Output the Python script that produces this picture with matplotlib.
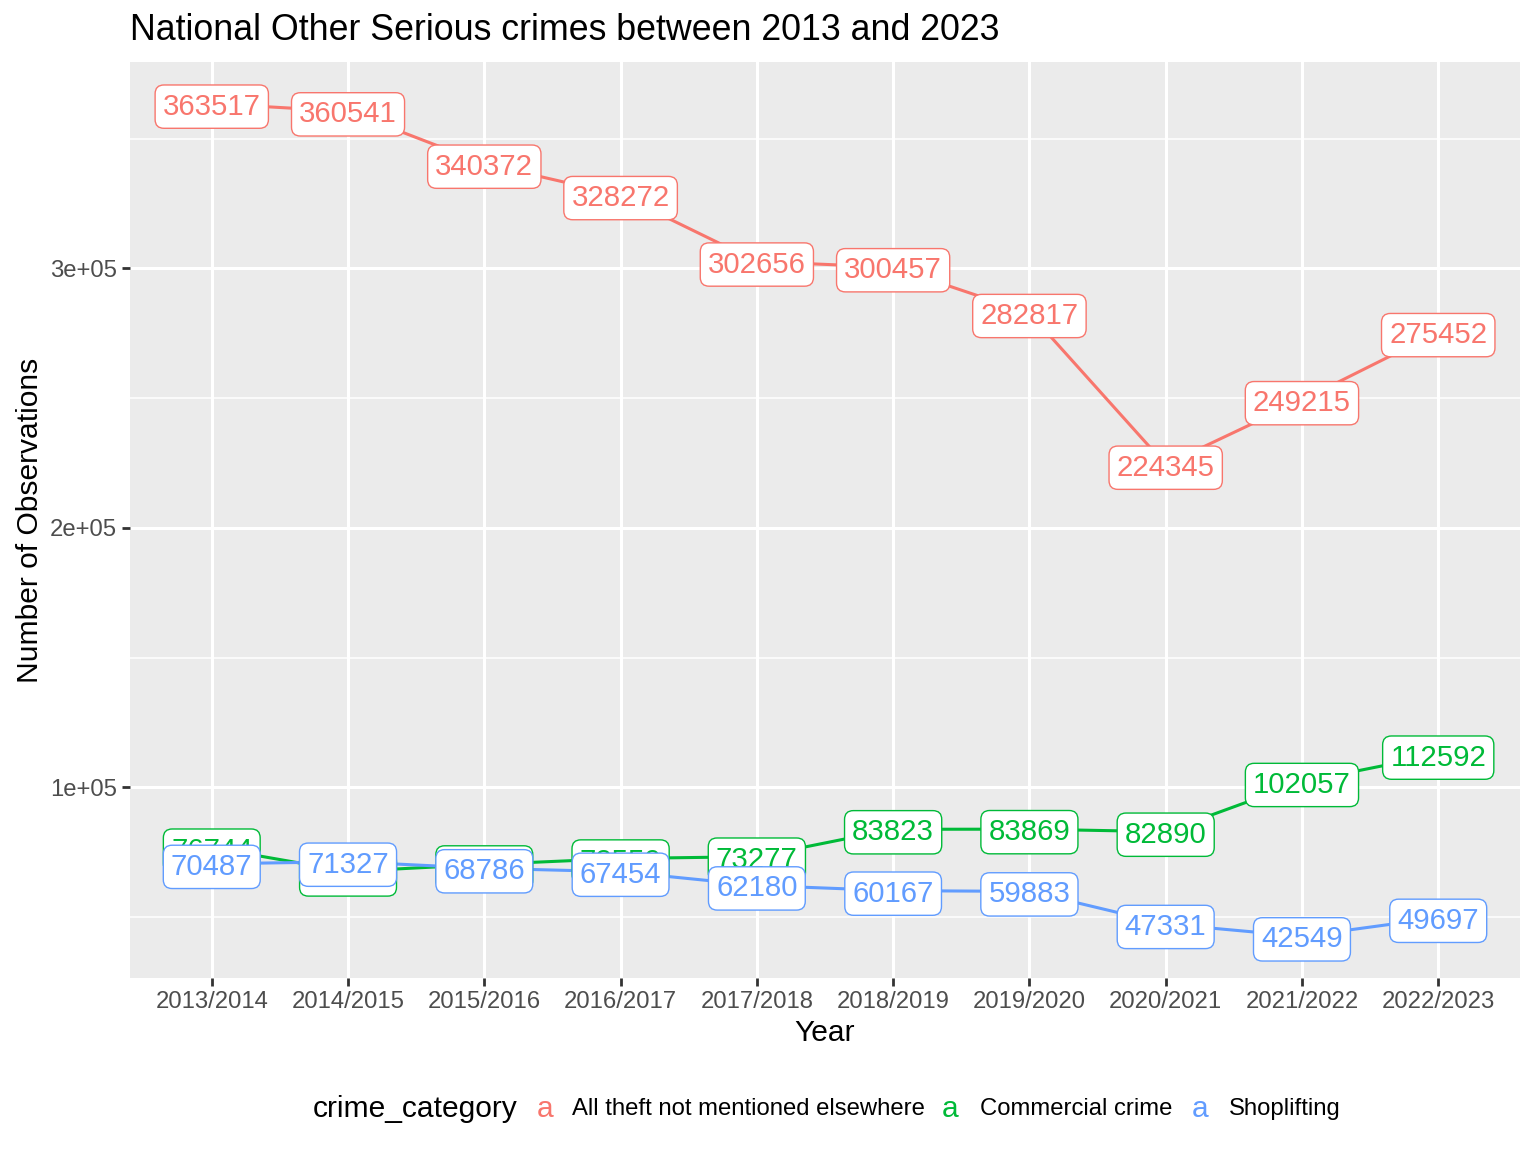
import numpy as np
import matplotlib.pyplot as plt

plt.rcParams['font.family'] = ['Liberation Sans', 'DejaVu Sans']

# Data
years = ['2013/2014', '2014/2015', '2015/2016', '2016/2017', '2017/2018',
         '2018/2019', '2019/2020', '2020/2021', '2021/2022', '2022/2023']
categories = ['All theft not mentioned elsewhere', 'Commercial crime', 'Shoplifting']
theft      = [363517, 360541, 340372, 328272, 302656, 300457, 282817, 224345, 249215, 275452]
commercial = [76744, 67568, 70270, 72559, 73277, 83823, 83869, 82890, 102057, 112592]
shoplift   = [70487, 71327, 68786, 67454, 62180, 60167, 59883, 47331, 42549, 49697]
colors = ['#F8766D', '#00BA38', '#619CFF']
series = [theft, commercial, shoplift]

W, H = 1536, 1152
fig = plt.figure(figsize=(W / 200, H / 200), dpi=200)
ax = fig.add_axes([130 / W, (H - 978) / H, 1390 / W, 916 / H])
ax.set_facecolor('#EBEBEB')

x = np.arange(len(years))
for vals, col in zip(series, colors):
    ax.plot(x, vals, color=col, lw=1.1, zorder=2)
for vals, col in zip(series, colors):
    for xi, v in zip(x, vals):
        ax.text(xi, v, str(v), ha='center', va='center_baseline', fontsize=10.6,
                color=col, zorder=3,
                bbox=dict(boxstyle='round,pad=0.26,rounding_size=0.3',
                          fc='white', ec=col, lw=0.5))

lo = min(min(s) for s in series)
hi = max(max(s) for s in series)
pad = (hi - lo) * 0.05
ax.set_ylim(lo - pad, hi + pad)
ax.set_xlim(-0.6, len(years) - 0.4)

ax.set_xticks(x)
ax.set_xticklabels(years)
ax.set_yticks([1e5, 2e5, 3e5])
ax.set_yticklabels(['1e+05', '2e+05', '3e+05'])
ax.set_yticks([0.5e5, 1.5e5, 2.5e5, 3.5e5], minor=True)
ax.grid(which='major', color='white', lw=1.1)
ax.grid(which='minor', color='white', lw=0.55)
ax.set_axisbelow(True)
ax.tick_params(axis='both', which='major', labelsize=8.6, colors='#333333',
               labelcolor='#4D4D4D', length=2.75, width=1.0, pad=2)
ax.tick_params(axis='both', which='minor', length=0)
for sp in ax.spines.values():
    sp.set_visible(False)

ax.set_xlabel('Year', fontsize=10.8, labelpad=2)
ax.set_ylabel('Number of Observations', fontsize=10.8, labelpad=2)

fig.text(130 / W, 1 - 30 / H, 'National Other Serious crimes between 2013 and 2023',
         fontsize=12.9, ha='left', va='center')

# legend at bottom
ly = 1 - 1109 / H
fig.text(313 / W, ly, 'crime_category', fontsize=10.8, ha='left', va='center')
key_x = [545, 950, 1200]
lab_x = [572, 980, 1229]
for cat, col, kx, tx in zip(categories, colors, key_x, lab_x):
    fig.text(kx / W, ly, 'a', fontsize=10.8, color=col, ha='center', va='center')
    fig.text(tx / W, ly, cat, fontsize=8.6, ha='left', va='center')

fig.savefig('out.png', dpi=200)
